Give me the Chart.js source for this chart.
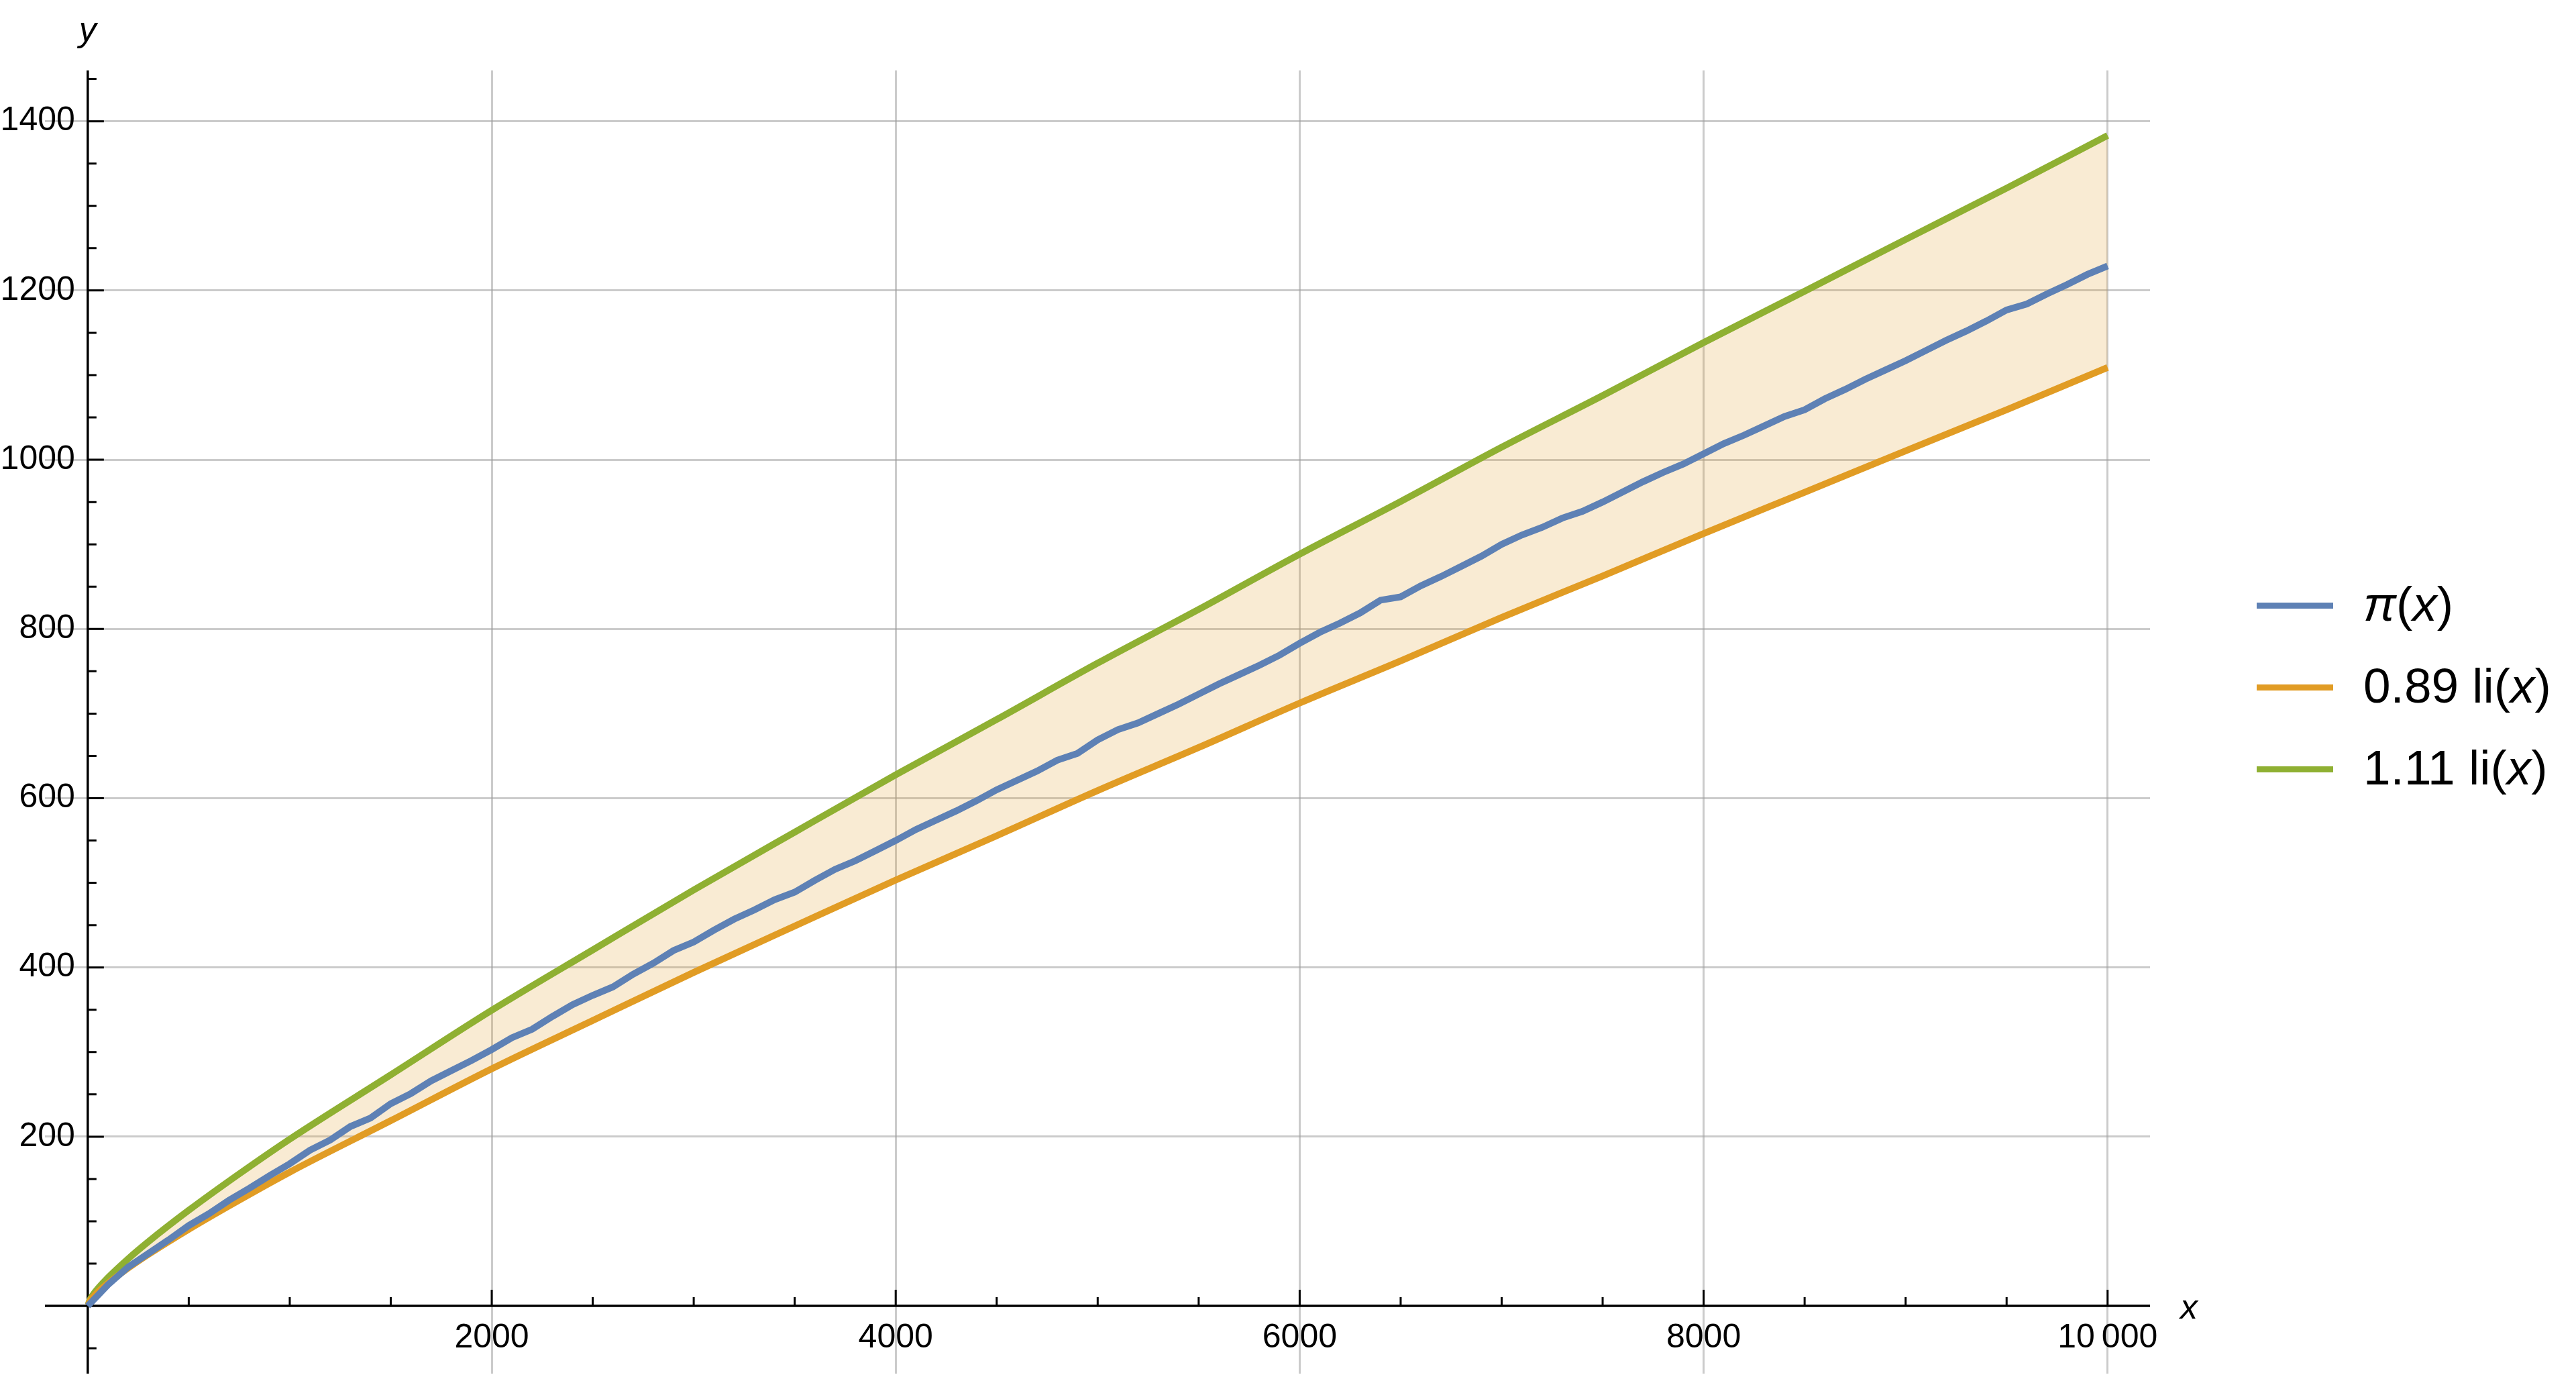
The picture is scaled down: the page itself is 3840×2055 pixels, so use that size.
<!DOCTYPE html>
<html>
<head>
<meta charset="utf-8">
<script src="https://cdn.jsdelivr.net/npm/chart.js@4.4.1/dist/chart.umd.min.js"></script>
<style>
    html, body { margin: 0; padding: 0; background: #ffffff; }
    #wrap { width: 3840px; height: 2055px; }
</style>
</head>
<body>
<div id="wrap"><canvas id="primeChart" width="3840" height="2055"></canvas></div>
<script>
// x samples used for the two li(x) bounds
const liX = [2, 10, 25, 50, 100, 200, 300, 500, 750, 1000, 1500, 2000, 2500, 3000, 3500, 4000,
    4500, 5000, 5500, 6000, 6500, 7000, 7500, 8000, 8500, 9000, 9500, 10000];
const lowerLi = [0.9, 5.5, 10.2, 16.5, 26.8, 44.7, 60.9, 90.6, 125.1, 158.1, 218.9, 280.2, 337.3, 394.1,
    448.9, 503.2, 555.6, 609.0, 659.9, 712.4, 762.2, 813.6, 862.6, 912.8, 961.5, 1010.5, 1059.1, 1109.0];
const upperLi = [1.2, 6.8, 12.8, 20.5, 33.4, 55.7, 75.9, 113.0, 156.1, 197.1, 273.1, 349.4, 420.7, 491.5,
    559.9, 627.6, 693.0, 759.6, 823.1, 888.4, 950.6, 1014.8, 1075.8, 1138.4, 1199.1, 1260.3, 1320.9, 1383.2];

// pi(x) read every 100
const piX = [
    0, 100, 200, 300, 400, 500, 600, 700, 800, 900, 1000,
    1100, 1200, 1300, 1400, 1500, 1600, 1700, 1800, 1900, 2000,
    2100, 2200, 2300, 2400, 2500, 2600, 2700, 2800, 2900, 3000,
    3100, 3200, 3300, 3400, 3500, 3600, 3700, 3800, 3900, 4000,
    4100, 4200, 4300, 4400, 4500, 4600, 4700, 4800, 4900, 5000,
    5100, 5200, 5300, 5400, 5500, 5600, 5700, 5800, 5900, 6000,
    6100, 6200, 6300, 6400, 6500, 6600, 6700, 6800, 6900, 7000,
    7100, 7200, 7300, 7400, 7500, 7600, 7700, 7800, 7900, 8000,
    8100, 8200, 8300, 8400, 8500, 8600, 8700, 8800, 8900, 9000,
    9100, 9200, 9300, 9400, 9500, 9600, 9700, 9800, 9900, 10000,
];
const piY = [
    0, 25, 46, 62, 78, 95, 109, 125, 139, 154, 168,
    184, 196, 212, 222, 239, 251, 266, 278, 290, 303,
    317, 327, 342, 356, 367, 377, 392, 405, 420, 430,
    444, 457, 468, 480, 489, 503, 516, 526, 538, 550,
    563, 574, 585, 597, 610, 621, 632, 645, 653, 669,
    681, 689, 700, 711, 723, 735, 746, 757, 769, 783,
    796, 807, 819, 834, 838, 851, 862, 874, 886, 900,
    911, 920, 931, 939, 950, 962, 974, 985, 995, 1007,
    1019, 1029, 1040, 1051, 1059, 1072, 1083, 1095, 1106, 1117,
    1129, 1141, 1152, 1164, 1177, 1184, 1196, 1207, 1219, 1229,
];

const xTickLabels = [2000, 4000, 6000, 8000, 10000];
const yTickLabels = [200, 400, 600, 800, 1000, 1200, 1400];

const seriesLabels = [
    [['π', true], ['(', false], ['x', true], [')', false]],
    [['0.89 li(', false], ['x', true], [')', false]],
    [['1.11 li(', false], ['x', true], [')', false]],
];
const seriesColors = ['#5E81B5', '#E19C24', '#8FB032'];
const bandFill = 'rgba(225, 156, 36, 0.2)';

const FONT = '"Liberation Sans", Arial, sans-serif';

const toPoints = (xs, ys) => xs.map((x, i) => ({ x: x, y: ys[i] }));

const fmtTick = (v) => {
    if (v >= 10000) {
        let s = String(v);
        return s.slice(0, s.length - 3) + '\u2009' + s.slice(s.length - 3);
    }
    return String(v);
};

const drawParts = (ctx, parts, x, y, size) => {
    let cx = x;
    for (const [txt, italic] of parts) {
        ctx.font = (italic ? 'italic ' : '') + size + 'px ' + FONT;
        ctx.fillText(txt, cx, y);
        cx += ctx.measureText(txt).width;
    }
};

const axesPlugin = {
    id: 'mathAxes',
    beforeDatasetsDraw(chart) {
        const ctx = chart.ctx;
        const area = chart.chartArea;
        const xs = chart.scales.x;
        const ys = chart.scales.y;
        const ax = xs.getPixelForValue(0);
        const ay = ys.getPixelForValue(0);

        ctx.save();
        ctx.strokeStyle = '#000000';
        ctx.lineWidth = 3.5;
        ctx.beginPath();
        ctx.moveTo(area.left, ay);
        ctx.lineTo(area.right, ay);
        ctx.moveTo(ax, area.top);
        ctx.lineTo(ax, area.bottom);
        ctx.stroke();

        ctx.lineWidth = 3;
        ctx.beginPath();
        for (let v = 500; v <= xs.max; v += 500) {
            let len = xTickLabels.includes(v) ? 24 : 13;
            let px = xs.getPixelForValue(v);
            ctx.moveTo(px, ay);
            ctx.lineTo(px, ay - len);
        }
        for (let v = -50; v <= ys.max; v += 50) {
            if (v === 0) continue;
            let len = yTickLabels.includes(v) ? 24 : 13;
            let py = ys.getPixelForValue(v);
            ctx.moveTo(ax, py);
            ctx.lineTo(ax + len, py);
        }
        ctx.stroke();
        ctx.restore();
    },
    afterDraw(chart) {
        const ctx = chart.ctx;
        const area = chart.chartArea;
        const xs = chart.scales.x;
        const ys = chart.scales.y;
        const ax = xs.getPixelForValue(0);
        const ay = ys.getPixelForValue(0);

        ctx.save();
        ctx.fillStyle = '#000000';
        ctx.font = '50px ' + FONT;
        ctx.textBaseline = 'middle';

        ctx.textAlign = 'right';
        for (const v of yTickLabels) {
            ctx.fillText(fmtTick(v), ax - 19, ys.getPixelForValue(v));
        }
        ctx.textAlign = 'center';
        for (const v of xTickLabels) {
            ctx.fillText(fmtTick(v), xs.getPixelForValue(v), ay + 48);
        }

        ctx.font = 'italic 52px ' + FONT;
        ctx.fillText('y', ax, area.top - 58);
        ctx.textAlign = 'left';
        ctx.fillText('x', area.right + 45, ay + 4);

        // legend
        const midY = chart.height / 2 - 3;
        const rowGap = 122;
        const lineX0 = area.right + 159;
        const lineX1 = lineX0 + 114;
        for (let i = 0; i < seriesLabels.length; i++) {
            let ly = midY + (i - 1) * rowGap;
            ctx.strokeStyle = seriesColors[i];
            ctx.lineWidth = 9;
            ctx.beginPath();
            ctx.moveTo(lineX0, ly);
            ctx.lineTo(lineX1, ly);
            ctx.stroke();
            ctx.fillStyle = '#000000';
            ctx.textAlign = 'left';
            drawParts(ctx, seriesLabels[i], lineX1 + 45, ly + 2, 73);
        }
        ctx.restore();
    },
};

const gridStyle = {
    color: 'rgba(160, 160, 160, 0.55)',
    lineWidth: 3,
    drawTicks: false,
};

let primeChart = new Chart(document.getElementById('primeChart').getContext('2d'), {
    type: 'line',
    data: {
        datasets: [
            {
                label: 'pi',
                data: toPoints(piX, piY),
                borderColor: seriesColors[0],
                borderWidth: 10,
                pointRadius: 0,
                tension: 0,
                fill: false,
            },
            {
                label: 'lower',
                data: toPoints(liX, lowerLi),
                borderColor: seriesColors[1],
                borderWidth: 10,
                pointRadius: 0,
                cubicInterpolationMode: 'monotone',
                fill: false,
            },
            {
                label: 'upper',
                data: toPoints(liX, upperLi),
                borderColor: seriesColors[2],
                backgroundColor: bandFill,
                borderWidth: 10,
                pointRadius: 0,
                cubicInterpolationMode: 'monotone',
                fill: '-1',
            },
        ],
    },
    options: {
        responsive: false,
        animation: false,
        devicePixelRatio: 1,
        layout: { padding: { left: 67, top: 105, right: 635, bottom: 8 } },
        plugins: {
            legend: { display: false },
            tooltip: { enabled: false },
            filler: { drawTime: 'beforeDatasetsDraw' },
        },
        scales: {
            x: {
                type: 'linear',
                min: -212,
                max: 10210,
                ticks: { display: false },
                grid: gridStyle,
                border: { display: false },
                afterBuildTicks: (scale) => {
                    scale.ticks = xTickLabels.map((v) => ({ value: v }));
                },
            },
            y: {
                type: 'linear',
                min: -80,
                max: 1460,
                ticks: { display: false },
                grid: gridStyle,
                border: { display: false },
                afterBuildTicks: (scale) => {
                    scale.ticks = yTickLabels.map((v) => ({ value: v }));
                },
            },
        },
    },
    plugins: [axesPlugin],
});
</script>
</body>
</html>
